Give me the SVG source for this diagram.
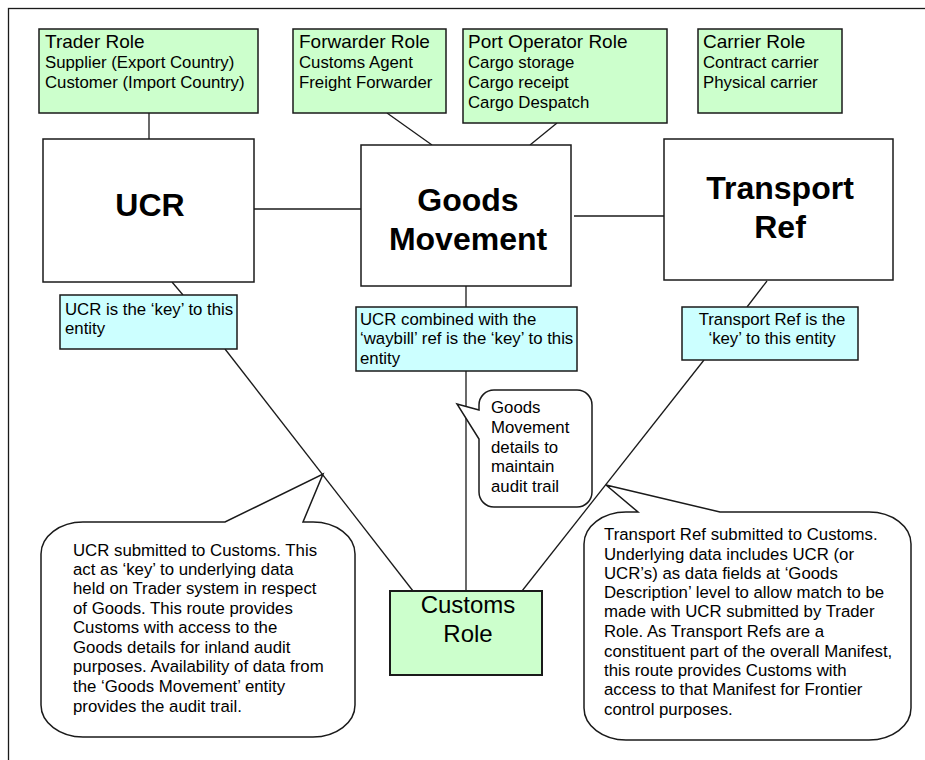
<svg xmlns="http://www.w3.org/2000/svg" width="925" height="760" viewBox="0 0 925 760">
<style>
text{font-family:"Liberation Sans",Arial,sans-serif;fill:#000}
.t{font-size:16.8px}
.h{font-size:19px}
.b{font-size:32px;font-weight:bold;text-anchor:middle}
.c{font-size:24px;text-anchor:middle}
.m{text-anchor:middle}
.g{fill:#ccffcc;stroke:#1a1a1a;stroke-width:1.5}
.y{fill:#ccffff;stroke:#1a1a1a;stroke-width:1.5}
.w{fill:#fff;stroke:#1a1a1a;stroke-width:1.5}
.ln{stroke:#1a1a1a;stroke-width:1.3;fill:none}
.co{fill:#fff;stroke:#1a1a1a;stroke-width:1.5;stroke-linejoin:miter}
</style>
<rect x="8.5" y="8.5" width="960" height="800" fill="none" stroke="#1a1a1a" stroke-width="1.3"/>
<g id="connectors">
<line class="ln" x1="149" y1="113" x2="149" y2="139"/>
<line class="ln" x1="387" y1="113" x2="432" y2="145"/>
<line class="ln" x1="557" y1="123" x2="530" y2="145"/>
<line class="ln" x1="254" y1="209" x2="361" y2="209"/>
<line class="ln" x1="574" y1="216" x2="664" y2="216"/>
<line class="ln" x1="172" y1="282" x2="183" y2="295"/>
<line class="ln" x1="225" y1="349" x2="413" y2="591"/>
<line class="ln" x1="466" y1="286" x2="466" y2="307"/>
<line class="ln" x1="466" y1="371" x2="466" y2="591"/>
<line class="ln" x1="767" y1="281" x2="747" y2="307"/>
<line class="ln" x1="704" y1="360" x2="522" y2="591"/>
</g>
<g id="trader-role">
<rect class="g" x="39" y="29" width="219" height="84"/>
<text class="h" x="45" y="48">Trader Role</text>
<text class="t" x="45" y="68">Supplier (Export Country)</text>
<text class="t" x="45" y="88">Customer (Import Country)</text>
</g>
<g id="forwarder-role">
<rect class="g" x="293" y="29" width="153" height="84"/>
<text class="h" x="299" y="48">Forwarder Role</text>
<text class="t" x="299" y="68">Customs Agent</text>
<text class="t" x="299" y="88">Freight Forwarder</text>
</g>
<g id="port-operator-role">
<rect class="g" x="463" y="29" width="204" height="94"/>
<text class="h" x="468" y="48">Port Operator Role</text>
<text class="t" x="468" y="68">Cargo storage</text>
<text class="t" x="468" y="88">Cargo receipt</text>
<text class="t" x="468" y="108">Cargo Despatch</text>
</g>
<g id="carrier-role">
<rect class="g" x="698" y="29" width="144" height="84"/>
<text class="h" x="703" y="48">Carrier Role</text>
<text class="t" x="703" y="68">Contract carrier</text>
<text class="t" x="703" y="88">Physical carrier</text>
</g>
<g id="ucr">
<rect class="w" x="43" y="139" width="211" height="143"/>
<text class="b" x="150" y="216">UCR</text>
</g>
<g id="goods-movement">
<rect class="w" x="361" y="145" width="210" height="141"/>
<text class="b" x="468" y="211">Goods</text>
<text class="b" x="468" y="250">Movement</text>
</g>
<g id="transport-ref">
<rect class="w" x="664" y="139" width="229" height="141"/>
<text class="b" x="780" y="199">Transport</text>
<text class="b" x="780" y="238">Ref</text>
</g>
<g id="ucr-key">
<rect class="y" x="60" y="295" width="177" height="54"/>
<text class="t" x="65" y="315">UCR is the ‘key’ to this</text>
<text class="t" x="65" y="334">entity</text>
</g>
<g id="goods-movement-key">
<rect class="y" x="356" y="307" width="221" height="64"/>
<text class="t" x="360" y="325">UCR combined with the</text>
<text class="t" x="360" y="344">‘waybill’ ref is the ‘key’ to this</text>
<text class="t" x="360" y="364">entity</text>
</g>
<g id="transport-ref-key">
<rect class="y" x="682" y="307" width="176" height="53"/>
<text class="t m" x="772" y="325">Transport Ref is the</text>
<text class="t m" x="772" y="344">‘key’ to this entity</text>
</g>
<g id="customs-role">
<rect class="g" x="390" y="591" width="152" height="84" style="stroke-width:2"/>
<text class="c" x="468" y="613">Customs</text>
<text class="c" x="468" y="642">Role</text>
</g>
<g id="audit-callout">
<path class="co" d="M494,390 L577,390 A15 15 0 0 1 592,405 L592,492 A15 15 0 0 1 577,507 L494,507 A15 15 0 0 1 479,492 L479,439 L457,404 L479,410 L479,405 A15 15 0 0 1 494,390 Z"/>
<text class="t" x="491" y="413">Goods</text>
<text class="t" x="491" y="433">Movement</text>
<text class="t" x="491" y="453">details to</text>
<text class="t" x="491" y="472">maintain</text>
<text class="t" x="491" y="492">audit trail</text>
</g>
<g id="ucr-callout">
<path class="co" d="M83,522 L225,522 L323,474 L303,522 L313,522 A42 32 0 0 1 355,554 L355,705 A42 32 0 0 1 313,737 L83,737 A42 32 0 0 1 41,705 L41,554 A42 32 0 0 1 83,522 Z"/>
<text class="t" x="73" y="556">UCR submitted to Customs. This</text>
<text class="t" x="73" y="575">act as ‘key’ to underlying data</text>
<text class="t" x="73" y="594">held on Trader system in respect</text>
<text class="t" x="73" y="614">of Goods. This route provides</text>
<text class="t" x="73" y="633">Customs with access to the</text>
<text class="t" x="73" y="653">Goods details for inland audit</text>
<text class="t" x="73" y="672">purposes. Availability of data from</text>
<text class="t" x="73" y="692">the ‘Goods Movement’ entity</text>
<text class="t" x="73" y="712">provides the audit trail.</text>
</g>
<g id="transport-callout">
<path class="co" d="M626,512 L638,512 L606,485 L720,512 L869,512 A42 32 0 0 1 911,544 L911,708 A42 32 0 0 1 869,740 L626,740 A42 32 0 0 1 584,708 L584,544 A42 32 0 0 1 626,512 Z"/>
<text class="t" x="604" y="540">Transport Ref submitted to Customs.</text>
<text class="t" x="604" y="560">Underlying data includes UCR (or</text>
<text class="t" x="604" y="579">UCR’s) as data fields at ‘Goods</text>
<text class="t" x="604" y="598">Description’ level to allow match to be</text>
<text class="t" x="604" y="617">made with UCR submitted by Trader</text>
<text class="t" x="604" y="637">Role. As Transport Refs are a</text>
<text class="t" x="604" y="657">constituent part of the overall Manifest,</text>
<text class="t" x="604" y="676">this route provides Customs with</text>
<text class="t" x="604" y="695">access to that Manifest for Frontier</text>
<text class="t" x="604" y="715">control purposes.</text>
</g>
</svg>
